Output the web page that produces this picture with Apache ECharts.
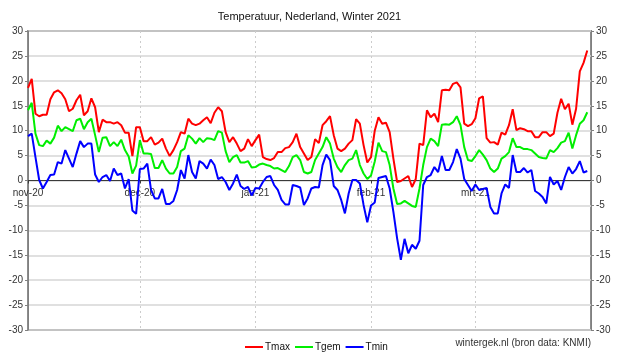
<!DOCTYPE html>
<html><head><meta charset="utf-8">
<script src="https://cdn.jsdelivr.net/npm/echarts@6/dist/echarts.min.js"></script>
<style>html,body{margin:0;padding:0;background:#fff}#c{width:619px;height:361px}</style>
</head><body><div id="c"></div>
<script>
// Daily values 1 Nov 2020 .. 31 Mar 2021
const monthLabels = ['nov-20','dec-20','jan-21','feb-21','mrt-21'];
const monthStart = [0,30,61,92,120];
const yTicks = [-30,-25,-20,-15,-10,-5,0,5,10,15,20,25,30];
const tmax = [
18.6,20.4,13.4,12.9,13.2,13.2,16.3,17.7,18.1,17.5,16.3,13.9,14.4,16.1,17.2,13.1,13.9,16.5,14.7,9.7,12.2,11.7,11.7,11.4,11.7,11.1,9.6,9.6,4.9,10.7,
10.7,7.9,7.9,8.7,7.2,7.6,8.4,6.4,4.9,6.1,7.7,9.7,9.4,12.4,11.4,11.1,11.4,12.1,12.7,11.5,13.6,14.7,13.9,9.7,7.7,8.7,7.4,5.9,6.4,8.3,6.9,
8.1,9.2,4.7,4.3,4.1,4.5,5.7,5.7,6.5,6.7,7.7,9.4,6.7,5.4,4.1,4.7,8.3,7.5,11.1,11.9,12.9,9.1,6.4,5.9,6.4,7.4,8.1,12.3,11.4,7.1,3.6,
4.7,10.0,12.7,11.4,11.6,9.7,4.4,-0.3,-0.1,0.4,0.9,-1.3,0.3,7.4,7.1,14.1,12.7,13.4,11.7,18.1,18.2,18.1,19.4,19.7,18.7,11.4,10.9,11.3,
12.5,16.5,16.9,8.5,7.6,7.7,7.2,9.6,9.2,11.1,14.3,10.1,10.5,10.3,9.9,9.9,8.7,8.7,9.7,9.7,8.9,9.4,13.6,16.4,14.3,15.4,11.2,14.4,21.9,23.6,26.1
];
const tgem = [
14.1,15.6,9.4,7.1,6.9,8.0,7.4,8.6,11.0,9.9,10.7,10.3,9.9,12.1,12.4,10.3,11.7,12.4,9.1,5.7,8.6,8.7,6.9,7.7,6.9,8.2,6.1,4.8,1.4,3.0,
8.1,5.4,5.4,5.3,2.5,2.5,4.1,2.4,1.4,1.4,2.7,5.9,6.4,9.1,8.4,7.4,8.5,7.7,8.5,8.4,8.1,9.9,9.6,5.9,3.7,4.7,5.1,3.6,3.6,3.9,2.6,
2.7,3.2,3.4,3.1,2.9,2.4,2.5,2.1,1.7,2.9,4.7,5.1,4.1,1.7,1.4,1.7,4.1,5.4,6.7,8.7,7.4,4.4,2.7,1.7,3.1,4.1,4.4,6.1,3.1,1.4,0.3,
1.0,3.8,7.6,5.9,5.7,3.1,-1.6,-4.7,-4.6,-4.1,-4.6,-5.1,-5.3,-1.6,3.1,6.7,8.4,7.9,6.9,11.2,11.3,11.2,11.7,12.9,11.1,6.7,4.1,3.9,
4.9,6.1,5.2,4.1,2.4,1.7,2.4,4.4,4.9,5.7,8.5,6.7,6.7,6.3,6.3,6.1,5.4,4.7,4.5,4.4,6.1,5.7,6.5,7.6,7.9,9.6,6.4,9.1,11.4,12.1,13.7
];
const tmin = [
8.9,9.4,4.7,0.1,-1.6,-0.3,1.1,1.2,3.7,3.4,6.1,4.4,2.7,5.4,7.9,6.7,7.4,7.4,1.2,-0.3,0.7,1.1,-0.1,2.4,1.1,1.4,-1.6,0.3,-6.0,-6.7,
2.3,2.4,3.4,-1.9,-3.6,-3.6,-1.7,-4.7,-4.7,-4.1,-1.9,2.1,0.4,5.1,1.7,0.4,3.9,3.4,2.4,4.2,3.1,0.3,0.7,-0.3,-1.9,-0.6,1.2,-1.1,-1.7,-1.3,-3.0,
-1.5,-1.6,-0.3,0.7,0.9,-0.9,-1.9,-3.9,-4.8,-4.8,-0.9,-1.1,-1.4,-4.9,-3.6,-1.6,-1.3,-1.4,3.1,5.2,4.1,-1.1,-1.9,-3.9,-6.6,-2.6,0.1,0.1,-0.6,-4.9,-8.4,
-5.0,-4.4,0.5,0.7,0.9,-1.6,-6.3,-11.6,-15.9,-11.7,-14.6,-12.9,-13.7,-12.1,-0.9,0.7,1.1,2.7,1.7,4.9,2.1,2.1,3.7,6.3,4.4,0.3,-0.9,-2.1,
-0.8,-1.9,-1.7,-1.5,-5.3,-6.6,-6.6,-2.6,-0.8,-1.5,5.1,1.7,1.7,2.5,1.6,2.1,-2.1,-2.6,-3.3,-4.6,0.7,-0.8,-0.1,-1.9,0.7,2.7,1.4,2.3,3.9,1.6,1.9
];

const days = [];
for (let i = 0; i <= tmax.length; i++) days.push(String(i));
const isMonthStart = (idx) => monthStart.indexOf(idx) >= 0;
const font = 'Liberation Sans, Arial, sans-serif';

const gridTop = 31, gridBottom = 31, H = 361;
const zeroOffset = -((H - gridBottom) - (gridTop + (H - gridTop - gridBottom) / 2));

const chart = echarts.init(document.getElementById('c'), null, {renderer:'canvas'});
const yAxisCommon = {
  type:'value', min:yTicks[0], max:yTicks[yTicks.length-1], interval:5,
  axisLine:{show:true, lineStyle:{color:'#808080', width:1}},
  axisTick:{show:true, length:3, lineStyle:{color:'#808080'}},
  axisLabel:{fontSize:10, color:'#333', fontFamily:font, margin:5},
};
chart.setOption({
  animation:false,
  backgroundColor:'#fff',
  title:{text:'Temperatuur, Nederland, Winter 2021', left:'center', top:6,
    textStyle:{fontSize:11, fontWeight:'normal', color:'#111', fontFamily:font}},
  grid:{left:28, right:28, top:gridTop, bottom:gridBottom, show:true, borderColor:'#8c8c8c', borderWidth:2, backgroundColor:'transparent'},
  xAxis:[{
    type:'category', data:days, boundaryGap:false, position:'bottom', offset:zeroOffset,
    axisLine:{onZero:false, lineStyle:{color:'#3a3a3a', width:1.2}},
    axisTick:{show:true, length:3, interval:(i)=>isMonthStart(i), lineStyle:{color:'#3a3a3a'}},
    axisLabel:{interval:(i)=>isMonthStart(i), margin:8, fontSize:10, color:'#333', fontFamily:font,
      formatter:(v)=>monthLabels[monthStart.indexOf(Number(v))] || ''},
    splitLine:{show:true, interval:(i)=>isMonthStart(i), lineStyle:{color:'#cccccc', type:[2,3], width:1}},
  }],
  yAxis:[
    Object.assign({}, yAxisCommon, {position:'left',
      splitLine:{show:true, lineStyle:{color:'#d6d6d6', width:1.6}}}),
    Object.assign({}, yAxisCommon, {position:'right', splitLine:{show:false}}),
  ],
  legend:{
    data:['Tmax','Tgem','Tmin'], left:240, top:337, icon:'rect', itemWidth:18, itemHeight:2, itemGap:5,
    textStyle:{fontSize:10, color:'#111', fontFamily:font, padding:[0,0,0,-3]},
  },
  graphic:[{type:'text', right:28, top:338,
    style:{text:'wintergek.nl (bron data: KNMI)', fill:'#333', font:'10px Liberation Sans, Arial, sans-serif'}}],
  series:[
    {name:'Tmax', type:'line', data:tmax, symbol:'none', lineStyle:{color:'#ff0000', width:2}, itemStyle:{color:'#ff0000'}},
    {name:'Tgem', type:'line', data:tgem, symbol:'none', lineStyle:{color:'#00ee00', width:2}, itemStyle:{color:'#00ee00'}},
    {name:'Tmin', type:'line', data:tmin, symbol:'none', lineStyle:{color:'#0000ff', width:2}, itemStyle:{color:'#0000ff'}},
  ]
});
</script></body></html>
